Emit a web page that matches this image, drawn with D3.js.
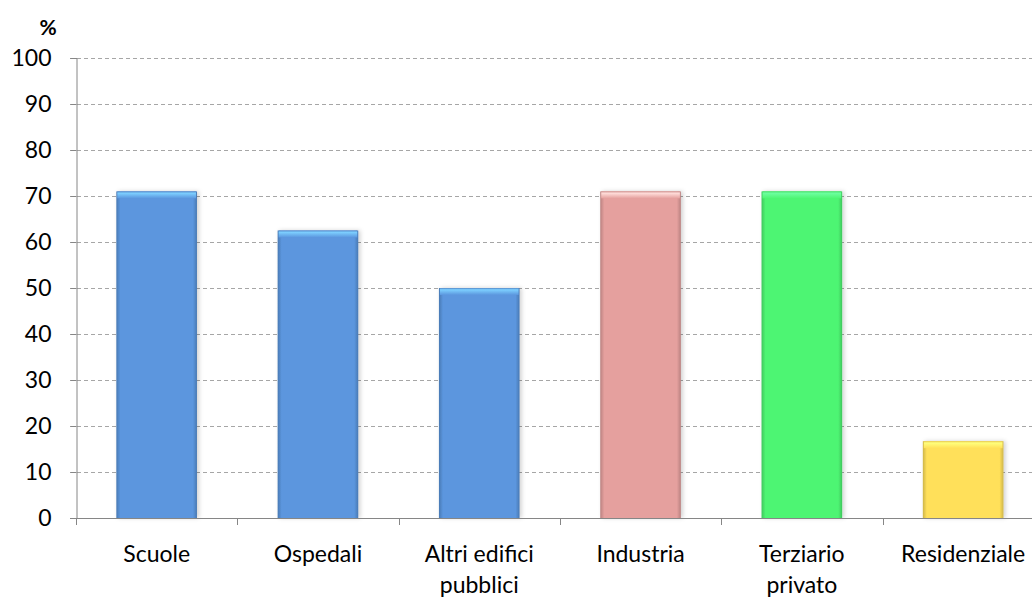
<!DOCTYPE html>
<html>
<head>
<meta charset="utf-8">
<script src="https://cdn.jsdelivr.net/npm/d3@7"></script>
<style>
  html, body { margin: 0; padding: 0; background: #fff; overflow: hidden; }
  svg { display: block; font-family: Lato, "Open Sans", sans-serif; }
</style>
</head>
<body>
<svg id="chart" width="1032" height="597"></svg>
<script>
// Share of buildings by sector (%)
const categories = ["Scuole", "Ospedali", "Altri edifici pubblici", "Industria", "Terziario privato", "Residenziale"];
const labelLines = [["Scuole"], ["Ospedali"], ["Altri edifici", "pubblici"], ["Industria"], ["Terziario", "privato"], ["Residenziale"]];
const values = [71, 62.5, 50, 71, 71, 16.7];
const barColors = ["#5B96DE", "#5B96DE", "#5B96DE", "#E5A09E", "#4EF573", "#FFE05A"];
const yTicks = [0, 10, 20, 30, 40, 50, 60, 70, 80, 90, 100];

const svg = d3.select("#chart");
const x0 = 76, y0 = 518, yTop = 58, band = 161.3;
const fontFamily = "Lato, 'Open Sans', sans-serif";

const x = d3.scaleBand().domain(categories)
  .range([x0, x0 + band * categories.length])
  .paddingInner(0.5).paddingOuter(0.25);
const y = d3.scaleLinear().domain([0, 100]).range([y0, yTop]);

// gradients for a bevelled look
const defs = svg.append("defs");
barColors.forEach((c, i) => {
  const base = d3.color(c);
  const g = defs.append("linearGradient").attr("id", "h" + i)
    .attr("x1", 0).attr("x2", 1).attr("y1", 0).attr("y2", 0);
  g.append("stop").attr("offset", "0").attr("stop-color", base.darker(0.6));
  g.append("stop").attr("offset", "0.05").attr("stop-color", base);
  g.append("stop").attr("offset", "0.95").attr("stop-color", base);
  g.append("stop").attr("offset", "1").attr("stop-color", base.darker(0.6));
  const t = defs.append("linearGradient").attr("id", "t" + i)
    .attr("x1", 0).attr("x2", 0).attr("y1", 0).attr("y2", 1);
  t.append("stop").attr("offset", "0").attr("stop-color", base.darker(0.3));
  t.append("stop").attr("offset", "0.25").attr("stop-color", base.brighter(0.9));
  t.append("stop").attr("offset", "1").attr("stop-color", base);
});
const shadow = defs.append("filter").attr("id", "shadow")
  .attr("x", "-10%").attr("y", "-10%").attr("width", "130%").attr("height", "120%");
shadow.append("feDropShadow").attr("dx", 2).attr("dy", 0).attr("stdDeviation", 2)
  .attr("flood-color", "#000").attr("flood-opacity", 0.18);

// horizontal gridlines
svg.append("g").selectAll("line").data(yTicks.filter(d => d > 0)).join("line")
  .attr("x1", x0 - 6).attr("x2", 1032)
  .attr("y1", d => y(d) + 0.5).attr("y2", d => y(d) + 0.5)
  .attr("stroke", "#A6A6A6").attr("stroke-width", 1)
  .attr("stroke-dasharray", "4,3");

// y axis
const yAxis = svg.append("g").attr("transform", `translate(${x0 + 0.5},0)`)
  .call(d3.axisLeft(y).tickValues(yTicks).tickSize(6).tickPadding(19));
yAxis.select(".domain").attr("stroke", "#868686");
yAxis.selectAll(".tick line").attr("stroke", "#868686");
yAxis.selectAll(".tick text").attr("font-size", 23).attr("fill", "#000")
  .attr("font-family", fontFamily);

// bars
const bars = svg.append("g").selectAll("g").data(categories).join("g");
bars.append("rect")
  .attr("x", d => x(d)).attr("width", x.bandwidth())
  .attr("y", (d, i) => y(values[i])).attr("height", (d, i) => y0 - y(values[i]))
  .attr("fill", (d, i) => `url(#h${i})`)
  .attr("filter", "url(#shadow)");
bars.append("rect")
  .attr("x", d => x(d) + 1).attr("width", x.bandwidth() - 2)
  .attr("y", (d, i) => y(values[i])).attr("height", 7)
  .attr("fill", (d, i) => `url(#t${i})`);

// x axis
const xAxisG = svg.append("g");
xAxisG.append("line").attr("x1", x0 - 6).attr("x2", 1032)
  .attr("y1", y0 + 0.5).attr("y2", y0 + 0.5).attr("stroke", "#868686");
const boundaries = d3.range(categories.length + 1).map(i => x0 + i * band);
xAxisG.selectAll("line.tk").data(boundaries).join("line").attr("class", "tk")
  .attr("x1", d => Math.round(d) + 0.5).attr("x2", d => Math.round(d) + 0.5)
  .attr("y1", y0).attr("y2", y0 + 7).attr("stroke", "#868686");

// category labels
const lbl = svg.append("g").selectAll("text").data(categories).join("text")
  .attr("x", d => x(d) + x.bandwidth() / 2).attr("y", 562)
  .attr("text-anchor", "middle").attr("font-size", 23).attr("fill", "#000")
  .attr("font-family", fontFamily);
lbl.selectAll("tspan").data((d, i) => labelLines[i]).join("tspan")
  .attr("x", function () { return this.parentNode.getAttribute("x"); })
  .attr("dy", (d, j) => j === 0 ? 0 : 31)
  .text(d => d);

// unit label
svg.append("text").attr("x", 48).attr("y", 35).attr("text-anchor", "middle")
  .attr("font-size", 21).attr("font-weight", "bold").attr("font-family", fontFamily)
  .text("%");
</script>
</body>
</html>
